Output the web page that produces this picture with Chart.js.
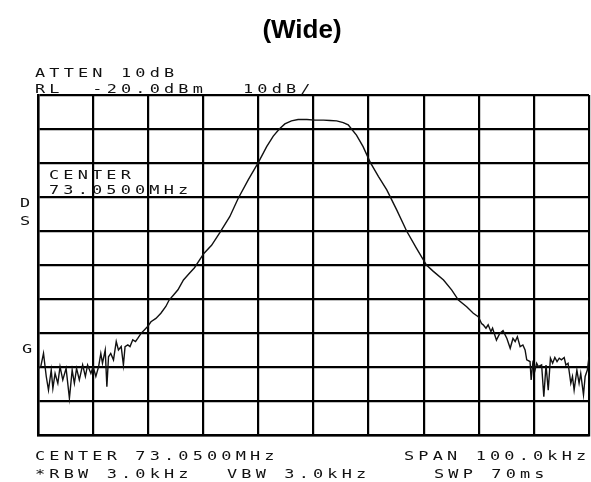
<!DOCTYPE html>
<html>
<head>
<meta charset="utf-8">
<script src="https://cdn.jsdelivr.net/npm/chart.js@4.4.1/dist/chart.umd.min.js"></script>
<style>
  html, body { margin: 0; padding: 0; background: #fff; }
  #wrap { width: 591px; height: 482px; }
</style>
</head>
<body>
<div id="wrap"><canvas id="chart"></canvas></div>
<script>
// offset from center 73.0500 MHz, kHz (span 100 kHz)
var freqKHz = [
  -50.0, -49.5, -49.0, -48.5, -48.1, -47.6, -47.3, -46.9, -46.4, -46.0,
  -45.5, -44.9, -44.3, -43.8, -43.4, -43.0, -42.5, -41.9, -41.4, -41.0,
  -40.4, -40.0, -39.5, -39.0, -38.6, -38.3, -37.8, -37.5, -37.2, -36.8,
  -36.3, -35.8, -35.4, -34.9, -34.5, -34.2, -33.7, -33.3, -32.8, -32.3,
  -31.9, -31.3, -30.7, -30.1, -29.5, -28.6, -27.7, -26.8, -26.2, -25.4,
  -24.6, -23.6, -22.6, -21.6, -19.9, -18.5, -17.0, -15.2, -13.7, -11.8,
  -10.0, -8.5, -7.3, -6.2, -5.2, -4.0, -2.8, -1.2, 0.3, 1.8,
  3.0, 4.2, 5.4, 6.3, 6.9, 7.8, 9.0, 10.3, 11.8, 13.3,
  15.1, 16.9, 18.7, 20.5, 21.7, 23.6, 25.1, 26.3, 27.8, 29.0,
  29.9, 30.5, 30.8, 31.3, 31.7, 32.2, 32.5, 33.2, 33.8, 34.4,
  35.1, 35.7, 36.2, 36.6, 37.0, 37.5, 38.0, 38.4, 38.7, 39.3,
  39.5, 39.8, 40.2, 40.5, 40.8, 41.4, 41.8, 42.2, 42.6, 43.0,
  43.4, 43.8, 44.2, 44.6, 45.0, 45.5, 45.8, 46.2, 46.7, 47.0,
  47.3, 47.8, 48.2, 48.5, 49.0, 49.3, 49.7, 50.0
];
// trace level, dBm
var levelDbm = [
  -100.5, -99.9, -96.0, -102.8, -106.8, -100.9, -106.3, -101.9, -104.8, -99.9,
  -103.8, -100.4, -109.2, -100.9, -104.8, -100.4, -103.8, -99.4, -102.8, -99.4,
  -101.9, -99.9, -102.8, -99.9, -96.0, -98.9, -95.0, -105.8, -97.0, -96.0,
  -97.9, -92.5, -95.0, -94.0, -99.4, -94.0, -93.5, -94.0, -92.0, -92.5,
  -91.6, -90.1, -89.1, -88.1, -86.7, -85.7, -84.2, -82.2, -80.3, -78.8,
  -77.3, -74.4, -72.6, -70.8, -66.6, -64.2, -60.5, -55.8, -50.5, -44.8,
  -39.8, -35.2, -32.1, -30.0, -28.5, -27.6, -27.2, -27.2, -27.4, -27.4,
  -27.5, -27.6, -28.1, -28.8, -30.0, -31.8, -35.2, -39.8, -44.0, -47.9,
  -53.8, -60.0, -65.1, -70.0, -71.8, -74.4, -77.4, -80.3, -82.3, -84.2,
  -85.2, -87.2, -87.6, -88.6, -87.6, -89.6, -88.6, -92.1, -90.1, -89.3,
  -91.6, -94.5, -91.6, -92.5, -91.1, -94.0, -93.5, -95.0, -97.9, -98.4,
  -103.8, -98.9, -100.9, -98.9, -99.9, -99.4, -108.7, -99.4, -106.8, -97.4,
  -98.9, -97.2, -98.4, -97.4, -97.9, -97.2, -99.4, -98.9, -104.8, -102.8,
  -106.8, -100.9, -104.8, -101.9, -108.2, -102.8, -100.9, -97.0
];

var headerLines = ['ATTEN 10dB', 'RL  -20.0dBm'];
var scaleLabel = '10dB/';
var centerNote = ['CENTER', '73.0500MHz'];
var sideMarks = ['D', 'S', 'G'];
var footerLeft = ['CENTER 73.0500MHz', '*RBW 3.0kHz'];
var footerMid = 'VBW 3.0kHz';
var footerRight = ['SPAN 100.0kHz', 'SWP 70ms'];

var points = freqKHz.map(function (f, i) { return { x: f, y: levelDbm[i] }; });

// HP plotter style text: wide thin letters
function plotText(ctx, str, x, y) {
  ctx.save();
  ctx.translate(x, y);
  ctx.scale(1.3, 1);
  ctx.font = '13px "DejaVu Sans Mono"';
  ctx.letterSpacing = '3.2px';
  ctx.fillStyle = '#111';
  ctx.textBaseline = 'alphabetic';
  ctx.fillText(str, 0, 0);
  ctx.restore();
}

var labelsPlugin = {
  id: 'labels',
  afterDraw: function (chart) {
    var ctx = chart.ctx;
    ctx.save();
    ctx.font = 'bold 26px "Liberation Sans"';
    ctx.fillStyle = '#000';
    ctx.textAlign = 'center';
    ctx.fillText('(Wide)', 302, 38);
    ctx.restore();

    plotText(ctx, headerLines[0], 35, 77);
    plotText(ctx, headerLines[1], 35, 93);
    plotText(ctx, scaleLabel, 243, 93);
    plotText(ctx, centerNote[0], 49, 179);
    plotText(ctx, centerNote[1], 49, 194);
    plotText(ctx, sideMarks[0], 20, 207);
    plotText(ctx, sideMarks[1], 20, 225);
    plotText(ctx, sideMarks[2], 22, 353);
    plotText(ctx, footerLeft[0], 35, 460);
    plotText(ctx, footerLeft[1], 35, 478);
    plotText(ctx, footerMid, 227, 478);
    plotText(ctx, footerRight[0], 404, 460);
    plotText(ctx, footerRight[1], 434, 478);
  }
};

var ctx = document.getElementById('chart').getContext('2d');
var chart = new Chart(ctx, {
  type: 'line',
  data: {
    datasets: [{
      data: points,
      borderColor: '#111',
      borderWidth: 1.4,
      pointRadius: 0,
      tension: 0,
      fill: false
    }]
  },
  options: {
    responsive: true,
    maintainAspectRatio: false,
    animation: false,
    layout: { padding: { left: 38, right: 2, top: 95, bottom: 47 } },
    plugins: {
      legend: { display: false },
      tooltip: { enabled: false }
    },
    scales: {
      x: {
        type: 'linear',
        min: -50,
        max: 50,
        ticks: { display: false, stepSize: 10 },
        grid: { color: '#000', lineWidth: 2.2, drawTicks: false },
        border: { display: true, color: '#000', width: 2.5 }
      },
      y: {
        min: -120,
        max: -20,
        ticks: { display: false, stepSize: 10 },
        grid: { color: '#000', lineWidth: 2.2, drawTicks: false },
        border: { display: true, color: '#000', width: 2.5 }
      }
    }
  },
  plugins: [labelsPlugin]
});
</script>
</body>
</html>
